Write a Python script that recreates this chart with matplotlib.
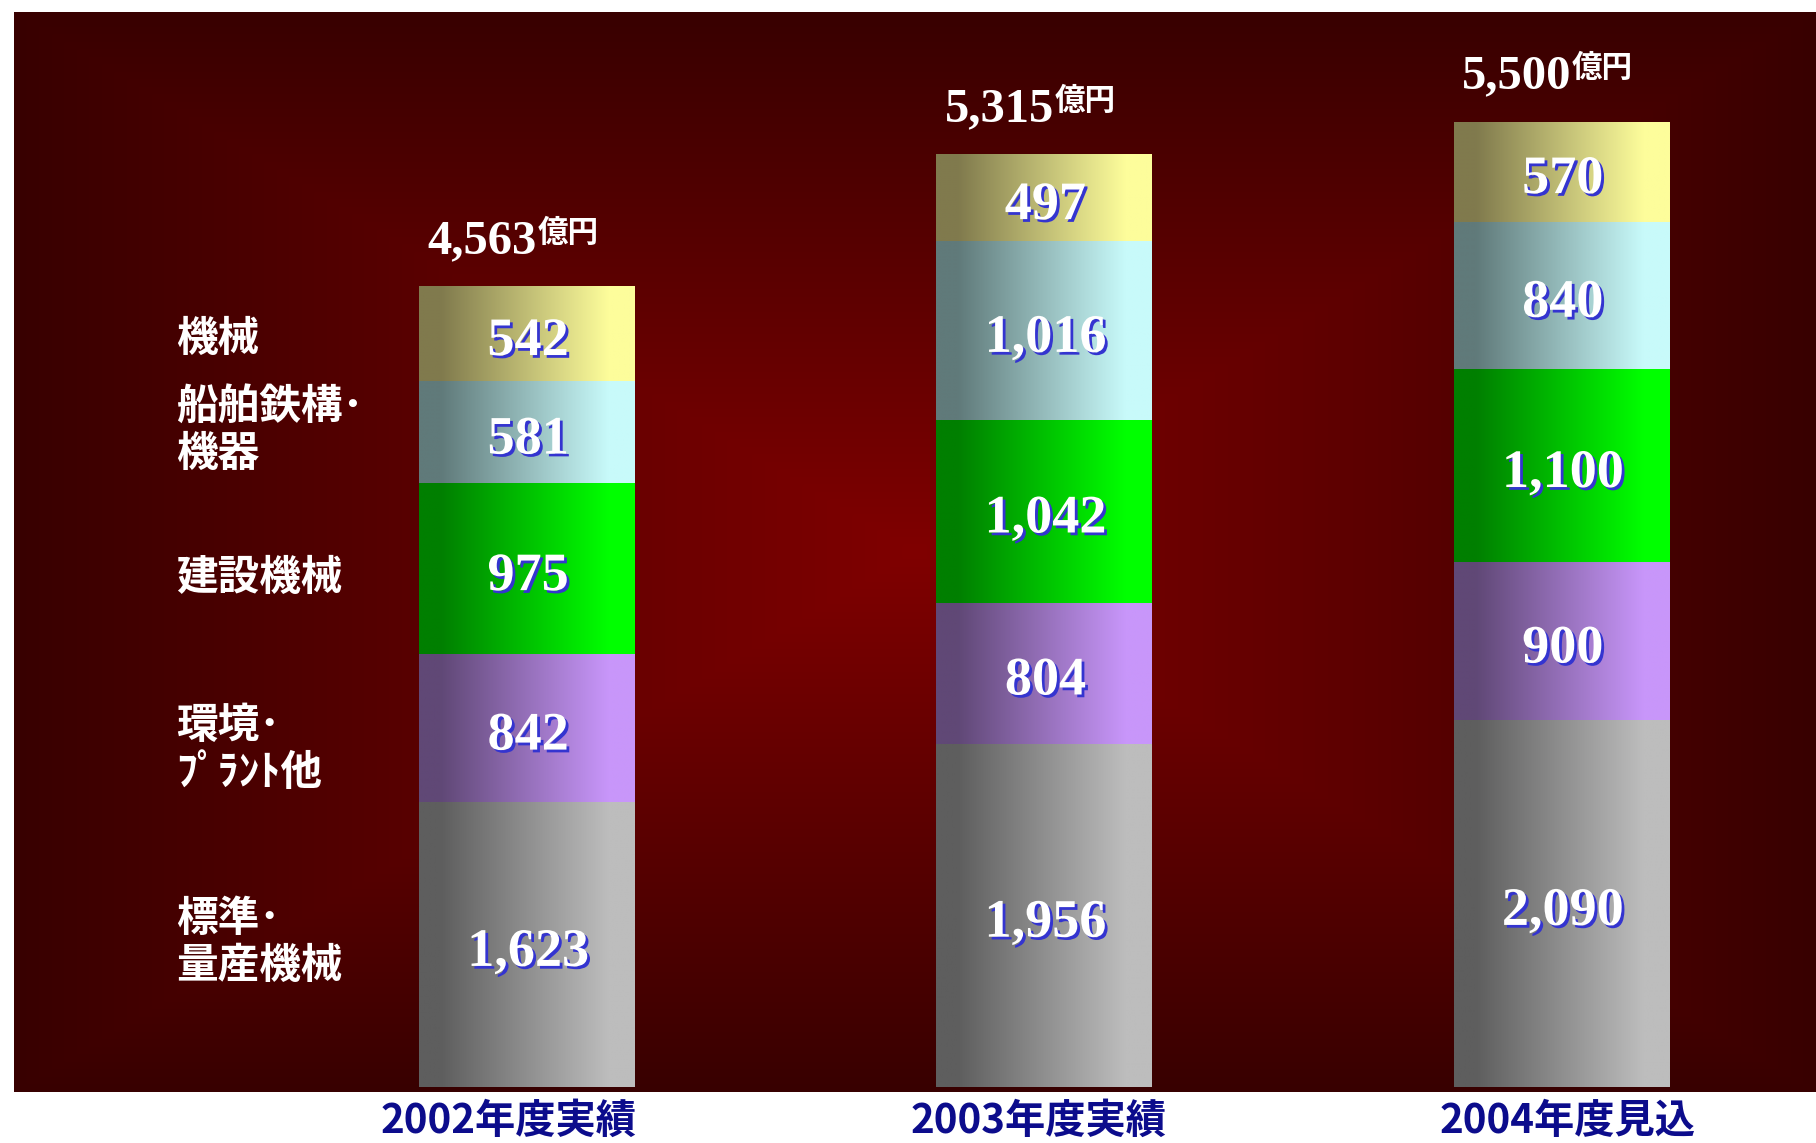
import numpy as np
import matplotlib
matplotlib.use('Agg')
import matplotlib.pyplot as plt
from matplotlib import patheffects as pe
from matplotlib import transforms as mtrans
from matplotlib.colors import to_rgb

plt.rcParams['font.family'] = ['Noto Sans CJK JP', 'DejaVu Sans']

# ---------------- data ----------------
categories = ['2002年度実績', '2003年度実績', '2004年度見込']
segment_names = ['標準･\n量産機械', '環境･\nﾌﾟﾗﾝﾄ他', '建設機械', '船舶鉄構･\n機器', '機械']
standard = [1623, 1956, 2090]
environment = [842, 804, 900]
construction = [975, 1042, 1100]
shipbuilding = [581, 1016, 840]
machinery = [542, 497, 570]
totals = [4563, 5315, 5500]
total_unit = '億円'

series = [standard, environment, construction, shipbuilding, machinery]
dark_colors = ['#5e5e5e', '#604876', '#007f00', '#607a7a', '#807a4d']
light_colors = ['#bdbdbd', '#c896fa', '#00ff00', '#c8fafa', '#fdfd9b']

# layout nudges (points)
name_dy = [1.5, -15, -6.5, 1.5, -3.6]
tick_dx = [-13.3, -4.3, 4.3]

W, H = 1816, 1143
fig = plt.figure(figsize=(W / 100, H / 100), dpi=100)
fig.patch.set_facecolor('white')
ax = fig.add_axes([14 / W, 51 / H, 1802 / W, 1080 / H])

# ---------------- background (rectangular "from centre" gradient) ----------------
ny, nx = 540, 900
yy, xx = np.mgrid[0:ny, 0:nx]
u = (xx + 0.5) / nx * 2 - 1
v = (yy + 0.5) / ny * 2 - 1
t = np.maximum(np.abs(u), np.abs(v))
c0 = np.array(to_rgb('#800000'))
c1 = np.array(to_rgb('#380000'))
bg = c0 + (c1 - c0) * t[..., None]
ax.imshow(bg, extent=(0, 1, 0, 1), transform=ax.transAxes, aspect='auto',
          zorder=0, interpolation='bilinear')


def make_grad(dc, lc, n=256):
    s = np.linspace(0, 1, n)
    r = np.clip((s - 0.10) / (0.88 - 0.10), 0, 1)
    a, b = np.array(to_rgb(dc)), np.array(to_rgb(lc))
    return (a + (b - a) * r[:, None])[None, :, :]


# ---------------- bars ----------------
x = np.arange(len(categories))
width = 0.416
bottom = np.zeros(len(categories))
shadow = [pe.withSimplePatchShadow(offset=(2.0, -2.0), shadow_rgbFace='#3434d0', alpha=1.0)]
centers = []
for vals, dc, lc in zip(series, dark_colors, light_colors):
    vals = np.array(vals, dtype=float)
    bars = ax.bar(x, vals, width=width, bottom=bottom, color=lc, linewidth=0, zorder=2)
    grad = make_grad(dc, lc)
    for b in bars:
        x0, y0, w, h = b.get_x(), b.get_y(), b.get_width(), b.get_height()
        im = ax.imshow(grad, extent=(x0, x0 + w, y0, y0 + h), aspect='auto',
                       zorder=3, interpolation='bilinear')
        im.set_clip_path(b)
    for xi, b0, val in zip(x, bottom, vals):
        ax.annotate(f'{int(val):,}', xy=(xi, b0 + val / 2), xytext=(1, -6),
                    textcoords='offset points', ha='center', va='center',
                    fontsize=39, fontfamily='Liberation Serif', fontweight='bold',
                    color='white', path_effects=shadow, zorder=5)
    centers.append(bottom[0] + vals[0] / 2)
    bottom = bottom + vals

# ---------------- totals ----------------
for xi, tot in zip(x, totals):
    ax.annotate(f'{tot:,}', xy=(xi, tot), xytext=(7, 24), textcoords='offset points',
                ha='right', va='baseline', fontsize=35, fontfamily='Liberation Serif',
                fontweight='bold', color='white', zorder=5)
    ax.annotate(total_unit, xy=(xi, tot), xytext=(7.5, 32), textcoords='offset points',
                ha='left', va='baseline', fontsize=22, fontweight='bold',
                color='white', zorder=5)

# ---------------- segment names on the left ----------------
trans = mtrans.blended_transform_factory(fig.transFigure, ax.transData)
for name, cy, dy in zip(segment_names, centers, name_dy):
    ax.annotate(name, xy=(176 / W, cy), xycoords=trans, xytext=(0, dy),
                textcoords='offset points', ha='left', va='center',
                fontsize=30, fontweight='bold', color='white', linespacing=1.15, zorder=5)

# ---------------- axes ----------------
ax.set_xlim(-0.9913, 2.4923)
ax.set_ylim(-28.5, 6125)
ax.set_xticks(x, categories)
ax.set_yticks([])
ax.tick_params(axis='x', length=0, pad=6.5, labelsize=29, labelcolor='#0c0c8c')
for lab, dx in zip(ax.get_xticklabels(), tick_dx):
    lab.set_fontweight('bold')
    lab.set_transform(lab.get_transform() + mtrans.ScaledTranslation(dx / 72, 0, fig.dpi_scale_trans))
for s in ax.spines.values():
    s.set_visible(False)

fig.savefig('out.png', dpi=100, facecolor='white')
